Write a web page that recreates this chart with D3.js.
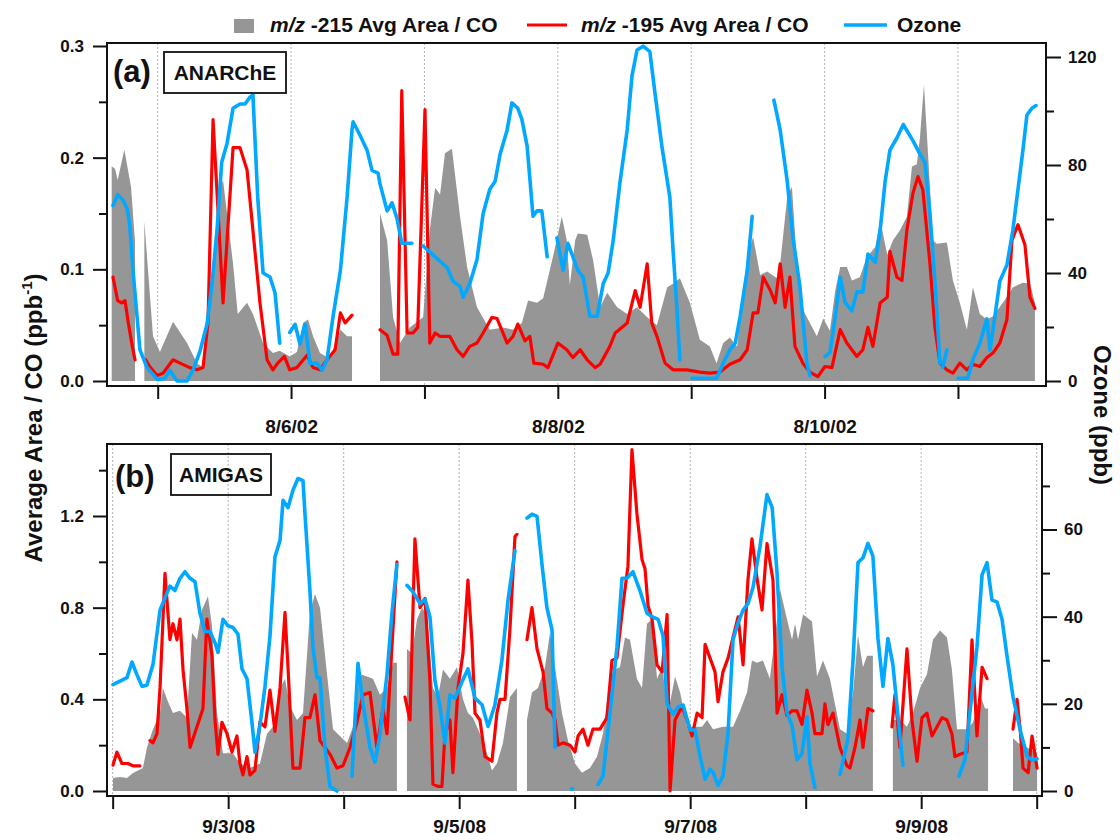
<!DOCTYPE html>
<html>
<head>
<meta charset="utf-8">
<script src="https://cdn.jsdelivr.net/npm/d3@7"></script>
<style>
  body { margin: 0; background: #fff; }
  svg text { font-family: "Liberation Sans", Arial, sans-serif; font-weight: bold; fill: #111; }
</style>
</head>
<body>
<div id="chart"></div>
<script>
// [day of month (fractional), value]; a null value breaks the trace
const anarche215 = [
  [4.655,0.192],[4.68,0.19],[4.70,0.18],[4.75,0.207],[4.80,0.174],[4.83,0.125],[4.86,null],
  [4.90,0.143],[4.927,0.10],[4.965,0.04],[5.017,0.026],[5.115,0.053],[5.22,0.034],[5.295,0.016],[5.34,0.012],
  [5.377,0.046],[5.415,0.097],[5.467,0.171],[5.49,0.18],[5.565,0.105],[5.60,0.06],[5.67,0.07],[5.714,0.06],
  [5.79,0.034],[5.864,0.025],[5.915,0.027],[5.99,0.022],[6.044,0.026],[6.09,0.052],[6.127,0.055],[6.165,0.04],
  [6.217,0.025],[6.29,0.02],[6.37,0.046],[6.42,0.04],[6.457,0.04],[6.55,null],
  [6.667,0.15],[6.72,0.126],[6.765,0.057],[6.817,0.034],[6.89,0.048],[6.99,0.057],[7.04,0.135],[7.08,0.173],
  [7.117,0.167],[7.154,0.204],[7.206,0.208],[7.267,0.147],[7.32,0.102],[7.394,0.066],[7.49,0.046],[7.59,0.048],
  [7.664,0.046],[7.73,0.052],[7.777,0.072],[7.844,0.07],[7.89,0.074],[7.963,0.111],[8.03,0.147],[8.067,0.126],
  [8.09,0.086],[8.13,0.126],[8.15,0.132],[8.22,0.131],[8.265,0.108],[8.317,0.066],[8.37,0.079],[8.445,0.066],
  [8.52,0.06],[8.594,0.066],[8.67,0.057],[8.743,0.05],[8.82,0.084],[8.864,0.087],[8.915,0.092],[8.99,0.07],
  [9.065,0.037],[9.14,0.031],[9.19,0.016],[9.24,0.034],[9.29,0.039],[9.344,0.031],[9.42,0.111],[9.464,0.129],
  [9.517,0.095],[9.57,0.098],[9.594,0.096],[9.644,0.092],[9.667,0.105],[9.72,0.165],[9.755,0.174],[9.793,0.105],
  [9.837,0.064],[9.89,0.052],[9.942,0.04],[9.99,0.056],[10.04,0.045],[10.08,0.081],[10.117,0.102],[10.167,0.102],
  [10.205,0.09],[10.264,0.093],[10.317,0.111],[10.38,0.12],[10.417,0.144],[10.47,0.113],[10.513,0.126],
  [10.565,0.135],[10.617,0.147],[10.655,0.192],[10.692,0.194],[10.715,0.218],[10.745,0.265],[10.79,0.174],
  [10.812,0.126],[10.842,0.123],[10.917,0.124],[10.962,0.09],[11.014,0.07],[11.067,0.046],[11.112,0.084],
  [11.164,0.06],[11.217,0.055],[11.262,0.058],[11.337,0.07],[11.412,0.084],[11.487,0.088],[11.54,0.087],[11.577,0.07]
];

const anarche195 = [
  [4.665,0.093],[4.70,0.072],[4.73,0.07],[4.755,0.072],[4.78,0.052],[4.81,0.031],[4.83,0.019],[4.87,null],
  [4.91,0.019],[4.94,0.013],[4.995,0.005],[5.04,0.007],[5.115,0.019],[5.167,0.016],[5.24,0.012],[5.295,0.01],
  [5.34,0.012],[5.377,0.052],[5.415,0.234],[5.49,0.07],[5.565,0.209],[5.617,0.209],[5.67,0.189],[5.714,0.135],
  [5.767,0.07],[5.82,0.019],[5.864,0.01],[5.90,0.016],[5.95,0.022],[5.99,0.01],[6.044,0.012],[6.12,0.023],
  [6.165,0.012],[6.217,0.01],[6.27,0.019],[6.33,0.028],[6.37,0.061],[6.405,0.052],[6.457,0.059],[6.55,null],
  [6.667,0.046],[6.72,0.041],[6.765,0.024],[6.80,0.024],[6.83,0.26],[6.87,0.043],[6.914,0.043],[6.95,0.048],
  [7.004,0.243],[7.04,0.034],[7.08,0.043],[7.117,0.04],[7.19,0.04],[7.244,0.028],[7.29,0.022],[7.34,0.031],
  [7.394,0.034],[7.44,0.043],[7.506,0.057],[7.544,0.056],[7.62,0.034],[7.664,0.04],[7.70,0.051],[7.754,0.036],
  [7.79,0.04],[7.82,0.016],[7.89,0.015],[7.926,0.012],[8.0,0.034],[8.067,0.028],[8.113,0.021],[8.167,0.028],
  [8.22,0.019],[8.28,0.012],[8.317,0.015],[8.39,0.031],[8.43,0.043],[8.52,0.052],[8.58,0.081],[8.617,0.066],
  [8.67,0.105],[8.704,0.052],[8.743,0.04],[8.804,0.016],[8.864,0.01],[8.967,0.01],[9.065,0.008],[9.14,0.007],
  [9.215,0.008],[9.29,0.015],[9.367,0.019],[9.42,0.028],[9.464,0.061],[9.50,0.061],[9.54,0.093],[9.594,0.081],
  [9.63,0.07],[9.667,0.105],[9.704,0.066],[9.74,0.093],[9.778,0.031],[9.837,0.016],[9.89,0.008],[9.95,0.004],
  [10.003,0.013],[10.055,0.012],[10.117,0.046],[10.167,0.034],[10.242,0.022],[10.287,0.028],[10.325,0.048],
  [10.362,0.031],[10.417,0.07],[10.47,0.075],[10.49,0.116],[10.542,0.093],[10.58,0.09],[10.617,0.135],
  [10.662,0.168],[10.70,0.183],[10.737,0.171],[10.79,0.105],[10.827,0.048],[10.865,0.016],[10.917,0.01],
  [10.962,0.007],[11.014,0.016],[11.067,0.01],[11.112,0.015],[11.164,0.013],[11.217,0.021],[11.262,0.025],
  [11.314,0.034],[11.367,0.055],[11.405,0.126],[11.45,0.14],[11.502,0.122],[11.54,0.075],[11.577,0.065]
];

const anarcheOzone = [
  [4.665,65],[4.70,69],[4.74,67],[4.77,64],[4.79,58],[4.815,41],[4.845,24],[4.867,11.5],[4.92,5],[5.0,0.5],
  [5.055,1],[5.09,4],[5.145,0],[5.22,0],[5.265,4],[5.317,11],[5.37,21],[5.407,36],[5.445,56],[5.48,81],[5.52,88],
  [5.565,101],[5.617,102.6],[5.655,102.6],[5.69,105],[5.714,106],[5.75,68],[5.79,40],[5.842,38.5],[5.88,32.6],
  [5.915,14],[5.95,null],
  [5.99,18],[6.03,21],[6.067,13.6],[6.105,21],[6.142,6.6],[6.195,6.6],[6.232,4],[6.27,8],[6.315,24],[6.37,41],
  [6.42,68],[6.457,93],[6.465,96],[6.517,91],[6.57,85.5],[6.607,78],[6.652,77],[6.667,73],[6.72,63],[6.757,66],
  [6.795,60],[6.83,51],[6.906,51],[6.95,null],
  [6.99,50],[7.064,46.7],[7.17,42],[7.214,37],[7.267,35],[7.29,31],[7.34,36],[7.394,45],[7.44,62],[7.49,71],
  [7.53,74],[7.567,84],[7.62,93],[7.656,103],[7.70,101],[7.73,97],[7.77,87],[7.814,61],[7.844,63],[7.88,63],
  [7.92,46],[7.96,null],
  [7.993,53],[8.04,41],[8.075,51],[8.113,46],[8.15,41],[8.19,38.5],[8.24,24],[8.295,24],[8.34,36],[8.377,40],
  [8.415,52],[8.467,74],[8.52,93],[8.556,113],[8.594,122.6],[8.64,124],[8.69,122],[8.73,106],[8.78,87],[8.84,68],
  [8.864,48.5],[8.89,29],[8.915,7.8],[8.95,null],
  [9.005,1],[9.19,1],[9.24,6.6],[9.29,11.5],[9.33,14],[9.367,24],[9.42,41],[9.457,61],[9.55,null],
  [9.62,104],[9.667,93],[9.72,74],[9.763,53],[9.815,35],[9.867,6.6],[9.89,2],[9.95,null],
  [10.003,9],[10.04,10.5],[10.08,24],[10.117,38.5],[10.154,29],[10.205,26],[10.242,33],[10.287,33],[10.325,47],
  [10.38,44],[10.417,56],[10.454,74],[10.49,85.5],[10.542,90],[10.59,95],[10.662,89],[10.715,84],[10.752,81],
  [10.79,62],[10.827,37],[10.865,6.6],[10.875,null],
  [10.885,5],[10.917,11.5],[10.94,null],
  [11.0,1],[11.074,1],[11.112,8],[11.164,14],[11.217,23],[11.24,11.5],[11.277,24],[11.314,37],[11.367,43],
  [11.412,56],[11.45,71],[11.487,85.5],[11.517,98.5],[11.554,101],[11.585,102]
];

const amigas215 = [
  [2.003,0.057],[2.063,0.061],[2.124,0.057],[2.176,0.079],[2.262,0.1],[2.297,0.19],[2.349,0.27],[2.41,0.34],
  [2.435,0.45],[2.479,0.39],[2.522,0.34],[2.583,0.35],[2.643,0.32],[2.687,0.69],[2.73,0.66],[2.773,0.79],
  [2.825,0.85],[2.86,0.72],[2.903,0.34],[2.955,0.165],[3.042,0.165],[3.102,0.12],[3.189,0.1],[3.275,0.12],
  [3.336,0.25],[3.388,0.28],[3.449,0.45],[3.492,0.49],[3.535,0.37],[3.596,0.31],[3.648,0.34],[3.708,0.78],
  [3.752,0.86],[3.795,0.8],[3.856,0.51],[3.908,0.27],[3.968,0.24],[4.029,0.21],[4.081,0.28],[4.141,0.51],
  [4.202,0.5],[4.254,0.49],[4.314,0.42],[4.375,0.45],[4.427,0.56],[4.461,0.56],[4.5,null],
  [4.548,0.62],[4.591,0.6],[4.635,0.75],[4.678,0.8],[4.721,0.77],[4.773,0.45],[4.816,0.41],[4.86,0.53],
  [4.92,0.49],[4.981,0.54],[5.033,0.4],[5.076,0.34],[5.12,0.32],[5.18,0.25],[5.241,0.165],[5.284,0.09],
  [5.327,0.12],[5.379,0.21],[5.44,0.41],[5.50,0.45],[5.54,null],
  [5.587,0.31],[5.63,0.43],[5.682,0.45],[5.743,0.54],[5.786,0.69],[5.83,0.54],[5.89,0.34],[5.942,0.22],
  [6.003,0.12],[6.063,0.08],[6.132,0.1],[6.193,0.15],[6.245,0.25],[6.306,0.5],[6.349,0.53],[6.392,0.54],
  [6.435,0.67],[6.479,0.66],[6.539,0.49],[6.583,0.45],[6.626,0.73],[6.67,0.75],[6.713,0.49],[6.757,0.54],
  [6.808,0.34],[6.869,0.5],[6.913,0.43],[6.973,0.28],[7.042,0.28],[7.103,0.28],[7.146,0.31],[7.198,0.27],
  [7.284,0.28],[7.371,0.28],[7.432,0.35],[7.492,0.43],[7.535,0.57],[7.578,0.56],[7.63,0.57],[7.69,0.49],
  [7.752,0.75],[7.778,0.88],[7.838,0.75],[7.882,0.66],[7.908,0.73],[7.934,0.66],[7.977,0.77],[8.055,0.74],
  [8.098,0.5],[8.15,0.57],[8.21,0.49],[8.297,0.27],[8.357,0.25],[8.41,0.43],[8.453,0.68],[8.496,0.54],
  [8.531,0.59],[8.582,0.59],[8.65,null],
  [8.755,0.31],[8.816,0.31],[8.877,0.28],[8.929,0.34],[8.99,0.45],[9.05,0.51],[9.102,0.66],[9.163,0.7],
  [9.223,0.67],[9.266,0.53],[9.31,0.27],[9.396,0.27],[9.449,0.3],[9.51,0.42],[9.553,0.36],[9.579,0.36],[9.65,null],
  [9.795,0.23],[9.839,0.21],[9.917,0.19],[10.003,0.165]
];

const amigas195 = [
  [2.003,0.113],[2.037,0.17],[2.08,0.12],[2.132,0.12],[2.176,0.11],[2.236,0.11],[2.28,null],
  [2.323,0.22],[2.349,0.21],[2.384,0.25],[2.41,0.45],[2.453,0.95],[2.496,0.66],[2.522,0.73],[2.557,0.66],
  [2.583,0.75],[2.609,0.53],[2.643,0.36],[2.67,0.19],[2.73,0.28],[2.756,0.32],[2.782,0.36],[2.816,0.75],
  [2.86,0.59],[2.886,0.31],[2.912,0.16],[2.946,0.3],[2.99,0.25],[3.033,0.17],[3.076,0.24],[3.102,0.12],
  [3.128,0.07],[3.163,0.15],[3.189,0.07],[3.232,0.09],[3.275,0.3],[3.319,0.28],[3.362,0.44],[3.405,0.26],
  [3.449,0.45],[3.492,0.78],[3.518,0.54],[3.561,0.1],[3.622,0.1],[3.665,0.32],[3.708,0.32],[3.752,0.42],
  [3.795,0.22],[3.838,0.19],[3.882,0.16],[3.942,0.1],[3.994,0.11],[4.055,0.19],[4.115,0.3],[4.167,0.42],
  [4.228,0.43],[4.288,0.19],[4.34,0.36],[4.375,0.25],[4.418,0.63],[4.461,1.0],[4.5,null],
  [4.531,0.41],[4.574,0.31],[4.617,1.1],[4.661,0.8],[4.704,0.84],[4.747,0.48],[4.773,0.03],[4.816,0.02],
  [4.851,0.02],[4.877,0.25],[4.92,0.31],[4.946,0.08],[4.99,0.45],[5.033,0.6],[5.076,0.92],[5.111,0.65],
  [5.137,0.34],[5.18,0.31],[5.224,0.15],[5.284,0.13],[5.327,0.34],[5.353,0.4],[5.397,0.4],[5.44,0.71],
  [5.483,1.11],[5.50,1.12],[5.54,null],
  [5.587,0.66],[5.63,0.8],[5.674,0.62],[5.726,0.52],[5.76,0.36],[5.804,0.34],[5.83,0.31],[5.856,0.2],
  [5.899,0.21],[5.96,0.2],[6.003,0.17],[6.029,0.24],[6.072,0.27],[6.115,0.2],[6.158,0.27],[6.219,0.27],
  [6.28,0.32],[6.323,0.57],[6.366,0.58],[6.418,0.81],[6.461,0.98],[6.496,1.49],[6.539,1.21],[6.583,1.01],
  [6.609,0.97],[6.635,0.81],[6.67,0.75],[6.713,0.55],[6.757,0.52],[6.80,0.77],[6.826,0.0],[6.869,0.31],
  [6.93,0.37],[6.973,0.31],[7.016,0.24],[7.06,0.34],[7.103,0.32],[7.129,0.64],[7.172,0.58],[7.215,0.52],
  [7.241,0.39],[7.284,0.52],[7.328,0.58],[7.371,0.67],[7.415,0.76],[7.458,0.55],[7.50,0.92],[7.535,1.1],
  [7.578,0.93],[7.622,0.79],[7.665,1.08],[7.717,0.92],[7.752,0.34],[7.795,0.42],[7.838,0.33],[7.882,0.35],
  [7.925,0.35],[7.968,0.29],[8.011,0.44],[8.055,0.34],[8.08,0.25],[8.141,0.25],[8.167,0.38],[8.193,0.29],
  [8.236,0.34],[8.297,0.19],[8.357,0.11],[8.383,0.1],[8.427,0.19],[8.47,0.31],[8.496,0.19],[8.539,0.36],
  [8.582,0.35],[8.65,null],
  [8.747,0.28],[8.773,0.42],[8.816,0.19],[8.877,0.62],[8.92,0.31],[8.964,0.13],[9.007,0.32],[9.05,0.34],
  [9.094,0.24],[9.137,0.28],[9.18,0.32],[9.223,0.31],[9.266,0.25],[9.292,0.15],[9.336,0.16],[9.396,0.17],
  [9.44,0.66],[9.483,0.24],[9.527,0.54],[9.57,0.49],[9.65,null],
  [9.795,0.27],[9.83,0.4],[9.857,0.27],[9.882,0.1],[9.926,0.08],[9.96,0.24],[10.003,0.1]
];

const amigasOzone = [
  [2.003,24.4],[2.124,26],[2.167,29.6],[2.21,26.7],[2.254,24],[2.297,24.3],[2.349,29],[2.41,41.5],[2.47,45.4],
  [2.496,47],[2.539,46],[2.583,48.8],[2.626,50.3],[2.67,48.8],[2.713,48],[2.756,40.8],[2.80,36.6],[2.842,36.6],
  [2.886,34],[2.912,31.8],[2.955,39.4],[2.999,37.9],[3.042,37.5],[3.085,36],[3.12,28],[3.163,25.8],[3.206,15.7],
  [3.232,8.9],[3.275,15],[3.319,24],[3.362,35.6],[3.405,53.7],[3.449,57.5],[3.475,66.7],[3.518,65],[3.561,69],
  [3.604,71.7],[3.648,71.2],[3.665,63.6],[3.708,46],[3.734,33],[3.769,26],[3.795,26],[3.838,10],[3.882,1],
  [3.942,0],[4.0,null],
  [4.072,3.4],[4.124,29.3],[4.167,20],[4.228,10],[4.271,6.6],[4.314,12.9],[4.375,26.7],[4.418,40.8],[4.461,52],
  [4.5,null],
  [4.548,47.2],[4.60,45.7],[4.661,43],[4.704,44],[4.747,40],[4.79,25.4],[4.834,19.3],[4.877,11],[4.92,22],
  [4.964,21.3],[5.024,25],[5.076,28],[5.137,21.3],[5.198,19.8],[5.25,14.8],[5.31,19.8],[5.37,30],[5.423,43.8],
  [5.483,55.2],[5.54,null],
  [5.587,62.6],[5.63,63.5],[5.674,63],[5.717,52],[5.76,42],[5.804,37],[5.83,10],[5.9,null],
  [5.972,0.5],[5.982,0.4],[6.1,null],
  [6.202,1.5],[6.245,3.4],[6.306,18],[6.366,33],[6.41,48.8],[6.453,48.8],[6.505,50.3],[6.565,46],[6.626,40.8],
  [6.67,40],[6.722,39.4],[6.765,35.6],[6.80,20],[6.852,17.6],[6.895,19.3],[6.939,19.7],[7.0,14],[7.042,14],
  [7.085,8],[7.129,2.7],[7.172,5],[7.198,4.3],[7.241,1.3],[7.284,3.4],[7.328,13.4],[7.371,34.7],[7.415,38.6],
  [7.458,41.5],[7.50,43],[7.544,46.7],[7.604,56],[7.665,68],[7.71,65],[7.752,50],[7.795,28.6],[7.838,18],
  [7.882,15],[7.925,7.2],[7.968,8.6],[8.011,17],[8.037,6.4],[8.08,0.8],[8.2,null],
  [8.297,3.8],[8.366,12],[8.41,30],[8.453,52.4],[8.496,53.5],[8.539,56.8],[8.582,53.9],[8.626,35],[8.669,24],
  [8.712,35],[8.755,29],[8.799,17.3],[8.842,5.9],[9.0,null],
  [9.327,3.4],[9.379,7.2],[9.422,18],[9.483,33],[9.527,49.6],[9.57,52.4],[9.613,43.8],[9.656,43.4],[9.70,39.4],
  [9.743,31],[9.795,21.6],[9.857,14],[9.917,8],[9.96,7.1],[10.003,7.4]
];

const anarcheTickDays = [5, 6, 7, 8, 9, 10, 11];
const anarcheLabelDays = [6, 8, 10];
const amigasTickDays = [2, 3, 4, 5, 6, 7, 8, 9, 10];
const amigasLabelDays = [3, 5, 7, 9];
const anarcheLeftTicks = [0, 0.1, 0.2, 0.3];
const anarcheLeftMinor = [0.05, 0.15, 0.25];
const anarcheRightTicks = [0, 40, 80, 120];
const anarcheRightMinor = [20, 60, 100];
const amigasLeftTicks = [0, 0.4, 0.8, 1.2];
const amigasLeftMinor = [0.2, 0.6, 1.0, 1.4];
const amigasRightTicks = [0, 20, 40, 60];
const amigasRightMinor = [10, 30, 50, 70];

const grayFill = "#969696", redColor = "#ff0000", blueColor = "#00a8ff";

const svg = d3.select("#chart")
  .append("svg")
  .attr("width", 1120)
  .attr("height", 840);

function dayDate(year, month, day) {
  return new Date(Date.UTC(year, month, 1) + (day - 1) * 864e5);
}

function drawPanel(p) {
  const g = svg.append("g");
  const x = d3.scaleUtc()
    .domain([dayDate(p.year, p.month, p.dayStart), dayDate(p.year, p.month, p.dayEnd)])
    .range([p.left, p.right]);
  const yL = d3.scaleLinear().domain([0, p.leftTicks[p.leftTicks.length - 1]]).range([p.zeroY, p.leftTopY]);
  const yR = d3.scaleLinear().domain([0, p.rightTicks[p.rightTicks.length - 1]]).range([p.zeroY, p.rightTopY]);
  const px = d => x(dayDate(p.year, p.month, d[0]));

  const clipId = "clip-" + p.name;
  g.append("clipPath").attr("id", clipId)
    .append("rect")
    .attr("x", p.left).attr("y", p.top)
    .attr("width", p.right - p.left).attr("height", p.bottom - p.top);

  // dotted day grid
  g.selectAll(".grid")
    .data(p.tickDays)
    .enter()
    .append("line")
    .attr("x1", d => x(dayDate(p.year, p.month, d)))
    .attr("x2", d => x(dayDate(p.year, p.month, d)))
    .attr("y1", p.top)
    .attr("y2", p.bottom)
    .attr("stroke", "#b4b4b4")
    .attr("stroke-width", 1)
    .attr("stroke-dasharray", "2,2");

  const plot = g.append("g").attr("clip-path", `url(#${clipId})`);

  const area = d3.area()
    .defined(d => d[1] != null)
    .x(px)
    .y0(yL(0))
    .y1(d => yL(d[1]));

  plot.append("path")
    .datum(p.gray)
    .attr("fill", grayFill)
    .attr("d", area);

  const redLine = d3.line().defined(d => d[1] != null).x(px).y(d => yL(d[1]));
  const blueLine = d3.line().defined(d => d[1] != null).x(px).y(d => yR(d[1]));

  plot.append("path")
    .datum(p.red)
    .attr("fill", "none")
    .attr("stroke", redColor)
    .attr("stroke-width", 3.2)
    .attr("stroke-linejoin", "round")
    .attr("stroke-linecap", "round")
    .attr("d", redLine);

  plot.append("path")
    .datum(p.blue)
    .attr("fill", "none")
    .attr("stroke", blueColor)
    .attr("stroke-width", 3.6)
    .attr("stroke-linejoin", "round")
    .attr("stroke-linecap", "round")
    .attr("d", blueLine);

  // frame
  g.append("rect")
    .attr("x", p.left).attr("y", p.top)
    .attr("width", p.right - p.left).attr("height", p.bottom - p.top)
    .attr("fill", "none")
    .attr("stroke", "#111")
    .attr("stroke-width", 2);

  const fmt = d3.utcFormat("%-m/%-d/%y");

  const xAxis = g.append("g")
    .attr("transform", `translate(0, ${p.bottom})`)
    .call(d3.axisBottom(x)
      .tickValues(p.tickDays.map(d => dayDate(p.year, p.month, d)))
      .tickSize(13)
      .tickPadding(p.xLabelPad)
      .tickFormat(d => p.labelDays.includes(d.getUTCDate()) ? fmt(d) : ""));

  g.append("g")
    .attr("transform", `translate(${p.left}, 0)`)
    .call(d3.axisLeft(yL).tickValues(p.leftTicks).tickSize(14).tickPadding(9).tickFormat(d3.format(".1f")));
  g.append("g")
    .attr("transform", `translate(${p.left}, 0)`)
    .call(d3.axisLeft(yL).tickValues(p.leftMinor).tickSize(8).tickFormat(""));

  g.append("g")
    .attr("transform", `translate(${p.right}, 0)`)
    .call(d3.axisRight(yR).tickValues(p.rightTicks).tickSize(15).tickPadding(7).tickFormat(d3.format("d")));
  g.append("g")
    .attr("transform", `translate(${p.right}, 0)`)
    .call(d3.axisRight(yR).tickValues(p.rightMinor).tickSize(8).tickFormat(""));

  g.selectAll(".domain").remove();
  g.selectAll(".tick line").attr("stroke", "#111").attr("stroke-width", 2);
  g.selectAll(".tick text").attr("fill", "#111").style("font-size", "17px").style("font-weight", "bold")
    .style("font-family", "'Liberation Sans', Arial, sans-serif");
  xAxis.selectAll(".tick text").style("font-size", "19px");

  // panel tag and campaign box
  g.append("text")
    .attr("x", p.tagX).attr("y", p.tagY)
    .style("font-size", "31px")
    .text(p.tag);

  g.append("rect")
    .attr("x", p.boxX).attr("y", p.boxY)
    .attr("width", p.boxW).attr("height", 41)
    .attr("fill", "none")
    .attr("stroke", "#111")
    .attr("stroke-width", 1.8);

  g.append("text")
    .attr("x", p.boxX + p.boxW / 2).attr("y", p.boxY + 28)
    .attr("text-anchor", "middle")
    .style("font-size", "21px")
    .text(p.name);
}

drawPanel({
  name: "ANARChE", tag: "(a)", year: 2002, month: 7,
  dayStart: 4.62, dayEnd: 11.66,
  left: 107, right: 1046, top: 43, bottom: 386, zeroY: 381, leftTopY: 46, rightTopY: 57,
  gray: anarche215, red: anarche195, blue: anarcheOzone,
  tickDays: anarcheTickDays, labelDays: anarcheLabelDays, xLabelPad: 21,
  leftTicks: anarcheLeftTicks, leftMinor: anarcheLeftMinor,
  rightTicks: anarcheRightTicks, rightMinor: anarcheRightMinor,
  tagX: 113, tagY: 82, boxX: 164, boxY: 52, boxW: 122
});

drawPanel({
  name: "AMIGAS", tag: "(b)", year: 2008, month: 8,
  dayStart: 1.951, dayEnd: 10.046,
  left: 107, right: 1042, top: 444, bottom: 796, zeroY: 791, leftTopY: 516, rightTopY: 529.5,
  gray: amigas215, red: amigas195, blue: amigasOzone,
  tickDays: amigasTickDays, labelDays: amigasLabelDays, xLabelPad: 11,
  leftTicks: amigasLeftTicks, leftMinor: amigasLeftMinor,
  rightTicks: amigasRightTicks, rightMinor: amigasRightMinor,
  tagX: 115, tagY: 487, boxX: 171, boxY: 454, boxW: 100
});

// axis titles
const yTitle = svg.append("text")
  .attr("transform", "translate(42, 418) rotate(-90)")
  .attr("text-anchor", "middle")
  .style("font-size", "24px");
yTitle.append("tspan").text("Average Area / CO (ppb");
yTitle.append("tspan").attr("dy", -10).style("font-size", "15px").text("-1");
yTitle.append("tspan").attr("dy", 10).text(")");

svg.append("text")
  .attr("transform", "translate(1094, 415) rotate(90)")
  .attr("text-anchor", "middle")
  .style("font-size", "24px")
  .text("Ozone (ppb)");

// legend
const legend = svg.append("g");
legend.append("rect").attr("x", 234).attr("y", 19).attr("width", 20).attr("height", 14).attr("fill", grayFill);
const l1 = legend.append("text").attr("x", 270).attr("y", 32).style("font-size", "21px");
l1.append("tspan").style("font-style", "italic").text("m/z");
l1.append("tspan").text(" -215 Avg Area / CO");
legend.append("line").attr("x1", 527).attr("x2", 567).attr("y1", 25).attr("y2", 25)
  .attr("stroke", redColor).attr("stroke-width", 3.2);
const l2 = legend.append("text").attr("x", 581).attr("y", 32).style("font-size", "21px");
l2.append("tspan").style("font-style", "italic").text("m/z");
l2.append("tspan").text(" -195 Avg Area / CO");
legend.append("line").attr("x1", 844).attr("x2", 887).attr("y1", 25).attr("y2", 25)
  .attr("stroke", blueColor).attr("stroke-width", 3.6);
legend.append("text").attr("x", 897).attr("y", 32).style("font-size", "21px").text("Ozone");
</script>
</body>
</html>
